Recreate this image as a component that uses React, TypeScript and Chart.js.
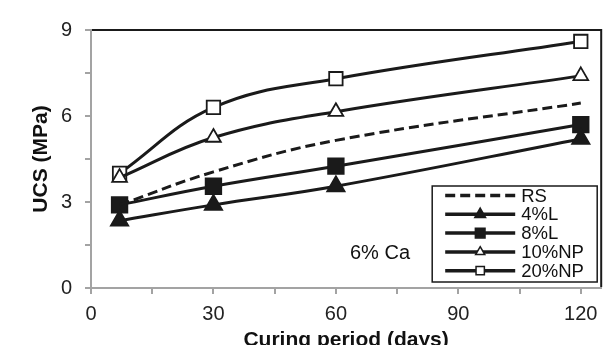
import React, { useEffect, useRef } from 'react';
import { Chart, registerables } from 'chart.js';

Chart.register(...registerables);

// ---- data ----
const days = [7, 30, 60, 120];
const rsValues = [2.9, 4.05, 5.15, 6.45];
const lime4Values = [2.35, 2.9, 3.55, 5.2];
const lime8Values = [2.9, 3.55, 4.25, 5.7];
const np10Values = [3.85, 5.25, 6.15, 7.4];
const np20Values = [4.0, 6.3, 7.3, 8.6];
const seriesLabels = ['RS', '4%L', '8%L', '10%NP', '20%NP'];
const xTickValues = [0, 15, 30, 45, 60, 75, 90, 105, 120];
const annotationText = '6% Ca';
const xTitle = 'Curing period (days)';
const yTitle = 'UCS (MPa)';

const FONT = '"Liberation Sans", Arial, Helvetica, sans-serif';
const INK = '#1a1a1a';
const AXIS_GRAY = '#a3a3a3';

const toPts = (vals: number[]) => vals.map((v, i) => ({ x: days[i], y: v }));

function drawMarker(ctx: CanvasRenderingContext2D, style: string, x: number, y: number, r: number, fill: string, stroke: string, lw: number) {
  ctx.beginPath();
  if (style === 'triangle') {
    ctx.moveTo(x, y - r);
    ctx.lineTo(x + r * 0.866, y + r * 0.5);
    ctx.lineTo(x - r * 0.866, y + r * 0.5);
    ctx.closePath();
  } else if (style === 'rect') {
    const s = r / Math.SQRT2;
    ctx.rect(x - s, y - s, 2 * s, 2 * s);
  } else {
    return;
  }
  ctx.fillStyle = fill;
  ctx.fill();
  ctx.lineWidth = lw;
  ctx.strokeStyle = stroke;
  ctx.stroke();
}

const framePlugin = {
  id: 'frame',
  beforeDatasetsDraw(chart: any) {
    const { ctx, chartArea } = chart;
    ctx.save();
    ctx.strokeStyle = INK;
    ctx.lineWidth = 2;
    ctx.beginPath();
    ctx.moveTo(chartArea.left + 1, chartArea.top);
    ctx.lineTo(chartArea.right, chartArea.top);
    ctx.lineTo(chartArea.right, chartArea.bottom - 1);
    ctx.stroke();
    ctx.restore();
  },
};

const boxLegendPlugin = {
  id: 'boxLegend',
  afterDatasetsDraw(chart: any) {
    const { ctx, chartArea } = chart;
    const left = chartArea.right - 169;
    const top = chartArea.top + 156;
    const w = 165;
    const h = 96;
    ctx.save();
    ctx.fillStyle = '#ffffff';
    ctx.fillRect(left, top, w, h);
    ctx.strokeStyle = INK;
    ctx.lineWidth = 1.5;
    ctx.strokeRect(left, top, w, h);
    chart.data.datasets.forEach((ds: any, i: number) => {
      const y = top + 9.5 + i * 18.8;
      const x1 = left + 13;
      const x2 = left + 83;
      ctx.beginPath();
      ctx.setLineDash(ds.borderDash || []);
      ctx.lineWidth = 3.5;
      ctx.strokeStyle = ds.borderColor;
      ctx.moveTo(x1, y);
      ctx.lineTo(x2, y);
      ctx.stroke();
      ctx.setLineDash([]);
      if (ds.pointRadius > 0) {
        drawMarker(ctx, ds.pointStyle, (x1 + x2) / 2, y, ds.pointRadius * 0.62, ds.pointBackgroundColor, ds.borderColor, 1.5);
      }
      ctx.fillStyle = '#111';
      ctx.font = `18.5px ${FONT}`;
      ctx.textAlign = 'left';
      ctx.textBaseline = 'middle';
      ctx.fillText(ds.label, x2 + 6, y + 1);
    });
    ctx.font = `20px ${FONT}`;
    ctx.fillStyle = '#111';
    ctx.textAlign = 'left';
    ctx.textBaseline = 'alphabetic';
    ctx.fillText(annotationText, chartArea.left + 259, chartArea.top + 229);
    ctx.restore();
  },
};

export default function App() {
  const canvasRef = useRef<HTMLCanvasElement | null>(null);

  useEffect(() => {
    document.body.style.margin = '0';
    const canvas = canvasRef.current;
    if (!canvas) return;
    const common = { borderColor: INK, borderWidth: 3, tension: 0.4, pointBorderColor: INK, pointBorderWidth: 1.8 };
    const chart = new Chart(canvas, {
      type: 'line',
      data: {
        datasets: [
          { ...common, label: seriesLabels[0], data: toPts(rsValues), borderDash: [10, 5], pointRadius: 0, pointStyle: 'circle', pointBackgroundColor: INK },
          { ...common, label: seriesLabels[1], data: toPts(lime4Values), pointStyle: 'triangle', pointRadius: 10, pointBackgroundColor: INK },
          { ...common, label: seriesLabels[2], data: toPts(lime8Values), pointStyle: 'rect', pointRadius: 11, pointBackgroundColor: INK },
          { ...common, label: seriesLabels[3], data: toPts(np10Values), pointStyle: 'triangle', pointRadius: 8.5, pointBackgroundColor: '#ffffff' },
          { ...common, label: seriesLabels[4], data: toPts(np20Values), pointStyle: 'rect', pointRadius: 9.5, pointBackgroundColor: '#ffffff' },
        ] as any,
      },
      options: {
        responsive: false,
        animation: false,
        devicePixelRatio: 1,
        layout: { padding: { top: 30, right: 11, left: 0, bottom: 0 } },
        plugins: { legend: { display: false }, tooltip: { enabled: false } },
        scales: {
          x: {
            type: 'linear',
            min: 0,
            max: 125,
            afterBuildTicks: (axis: any) => {
              axis.ticks = xTickValues.map((v) => ({ value: v }));
            },
            afterFit: (scale: any) => {
              scale.height = 57;
            },
            ticks: {
              autoSkip: false,
              maxRotation: 0,
              padding: 8,
              color: '#222',
              font: { family: FONT, size: 20 },
              callback: (v: any) => (Number(v) % 30 === 0 ? String(v) : ''),
            },
            grid: { drawOnChartArea: false, drawTicks: true, tickLength: 6, color: AXIS_GRAY, lineWidth: 2 },
            border: { display: true, color: AXIS_GRAY, width: 2 },
            title: {
              display: true,
              text: xTitle,
              color: '#111',
              font: { family: FONT, size: 21, weight: 'bold' },
              padding: { top: 0, bottom: -8 },
            },
          },
          y: {
            type: 'linear',
            min: 0,
            max: 9,
            afterFit: (scale: any) => {
              scale.width = 91;
            },
            ticks: {
              stepSize: 1.5,
              autoSkip: false,
              padding: 13,
              color: '#222',
              font: { family: FONT, size: 20 },
              callback: (v: any) => (Math.abs(Number(v) % 3) < 1e-6 ? String(v) : ''),
            },
            grid: { drawOnChartArea: false, drawTicks: true, tickLength: 6, color: AXIS_GRAY, lineWidth: 2 },
            border: { display: true, color: AXIS_GRAY, width: 2 },
            title: {
              display: true,
              text: yTitle,
              color: '#111',
              font: { family: FONT, size: 21, weight: 'bold' },
              padding: { top: 29, bottom: 0 },
            },
          },
        },
      } as any,
      plugins: [framePlugin, boxLegendPlugin],
    });
    return () => chart.destroy();
  }, []);

  return (
    <div style={{ position: 'relative', width: 614, height: 345 }}>
      <canvas ref={canvasRef} width={614} height={345} style={{ display: 'block' }} />
    </div>
  );
}
